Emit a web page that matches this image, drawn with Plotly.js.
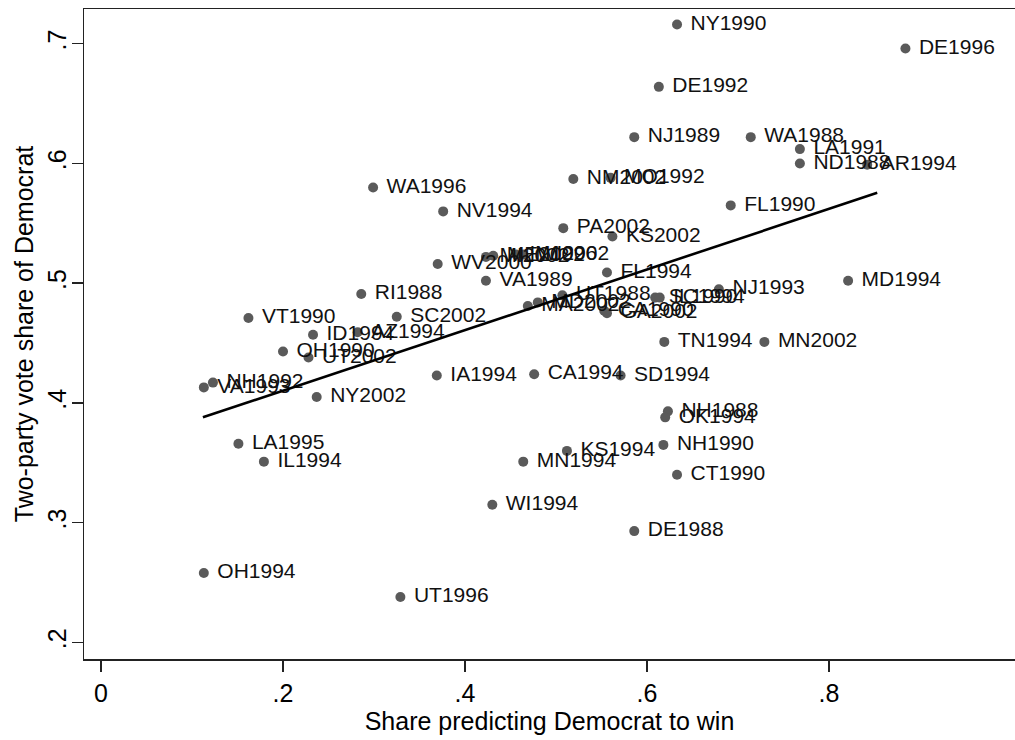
<!DOCTYPE html>
<html>
<head>
<meta charset="utf-8">
<script src="https://cdn.plot.ly/plotly-3.0.1.min.js"></script>
<style>html,body{margin:0;padding:0;background:#fff;}#chart{width:1015px;height:740px;}</style>
</head>
<body>
<div id="chart"></div>
<script>
// Election labels (state + year)
var labels = ["NY1990","DE1996","DE1992","NJ1989","WA1988","LA1991","ND1988","AR1994","NM2002","MO1992",
  "WA1996","NV1994","FL1990","PA2002","KS2002","WV2000","MI2002","ME2002","IN1996","WI2002",
  "VA1989","FL1994","MD1994","NJ1993","RI1988","VT1990","SC2002","ID1994","AZ1994","OH1990",
  "UT2002","NH1992","VA1993","NY2002","IA1994","CA1994","SD1994","TN1994","MN2002","NH1988",
  "OK1994","NH1990","CT1990","KS1994","MN1994","LA1995","IL1994","WI1994","DE1988","OH1994",
  "UT1996","MA2002","MD2002","UT1988","CA1990","GA2002","SC1994","IL1990"];
// Share predicting Democrat to win
var sharePredict = [0.633,0.884,0.613,0.586,0.714,0.768,0.768,0.842,0.519,0.560,
  0.299,0.376,0.692,0.508,0.562,0.370,0.423,0.431,0.456,0.464,
  0.423,0.556,0.821,0.679,0.286,0.162,0.325,0.233,0.282,0.200,
  0.228,0.123,0.113,0.237,0.369,0.476,0.571,0.619,0.729,0.623,
  0.620,0.618,0.633,0.512,0.464,0.151,0.179,0.430,0.586,0.113,
  0.329,0.469,0.480,0.507,0.553,0.556,0.609,0.614];
// Two-party vote share of Democrat
var voteShare = [0.716,0.696,0.664,0.622,0.622,0.612,0.600,0.599,0.587,0.588,
  0.580,0.560,0.565,0.546,0.539,0.516,0.522,0.523,0.524,0.524,
  0.502,0.509,0.502,0.495,0.491,0.471,0.472,0.457,0.459,0.443,
  0.438,0.417,0.413,0.405,0.423,0.424,0.423,0.451,0.451,0.393,
  0.388,0.365,0.340,0.360,0.351,0.366,0.351,0.315,0.293,0.258,
  0.238,0.481,0.484,0.490,0.477,0.475,0.488,0.488];
// Fitted line endpoints
var fitX = [0.112, 0.853];
var fitY = [0.388, 0.5755];
// Axis ticks
var xTickVals = [0, 0.2, 0.4, 0.6, 0.8];
var xTickText = ["0", ".2", ".4", ".6", ".8"];
var yTickVals = [0.2, 0.3, 0.4, 0.5, 0.6, 0.7];
var yTickText = [".2", ".3", ".4", ".5", ".6", ".7"];

var FONT = "Liberation Sans, Arial, Helvetica, sans-serif";

var traces = [
  {
    type: "scatter", mode: "markers", x: sharePredict, y: voteShare,
    marker: {size: 10, color: "#5a5a5a", line: {width: 0}},
    hoverinfo: "skip", showlegend: false, cliponaxis: false
  },
  {
    type: "scatter", mode: "markers+text", x: sharePredict, y: voteShare, text: labels,
    textposition: "middle right",
    textfont: {family: FONT, size: 21, color: "#111"},
    marker: {size: 20, color: "rgba(0,0,0,0)", line: {width: 0}},
    hoverinfo: "skip", showlegend: false, cliponaxis: false
  },
  {
    type: "scatter", mode: "lines", x: fitX, y: fitY,
    line: {color: "#000", width: 2.6},
    hoverinfo: "skip", showlegend: false
  }
];

var layout = {
  width: 1015, height: 740,
  margin: {l: 84, r: 0, t: 9, b: 81},
  paper_bgcolor: "#fff", plot_bgcolor: "#fff",
  font: {family: FONT, size: 25, color: "#000"},
  showlegend: false,
  xaxis: {
    range: [-0.0187, 1.0044], tickvals: xTickVals, ticktext: xTickText,
    ticks: "outside", ticklen: 11, tickwidth: 1.5, tickcolor: "#222",
    showline: true, linecolor: "#222", linewidth: 1.5, mirror: true,
    showgrid: false, zeroline: false,
    tickfont: {family: FONT, size: 25, color: "#000"},
    title: {text: "Share predicting Democrat to win", font: {family: FONT, size: 25, color: "#000"}, standoff: 2},
    automargin: false
  },
  yaxis: {
    range: [0.1862, 0.7290], tickvals: yTickVals, ticktext: yTickText,
    ticks: "outside", ticklen: 11, tickwidth: 1.5, tickcolor: "#222",
    tickangle: -90, ticklabelstandoff: -4,
    showline: true, linecolor: "#222", linewidth: 1.5, mirror: false,
    showgrid: false, zeroline: false,
    tickfont: {family: FONT, size: 25, color: "#000"},
    title: {text: "Two-party vote share of Democrat", font: {family: FONT, size: 25, color: "#000"}, standoff: 2},
    automargin: false
  }
};

Plotly.newPlot("chart", traces, layout, {staticPlot: true, displayModeBar: false});
</script>
</body>
</html>
